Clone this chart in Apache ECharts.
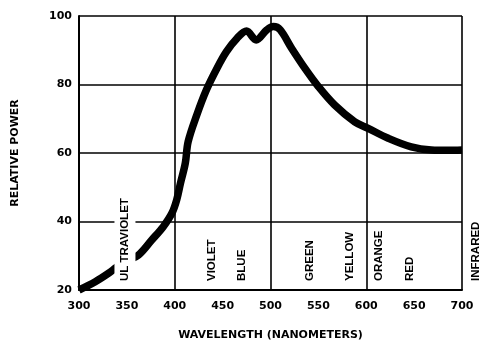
<!DOCTYPE html>
<html>
<head>
<meta charset="utf-8">
<script src="https://cdn.jsdelivr.net/npm/echarts@6/dist/echarts.min.js"></script>
<style>
html,body{margin:0;padding:0;background:#fff;}
#c{width:482px;height:349px;}
</style>
</head>
<body>
<div id="c"></div>
<script>
var wavelength = [300, 317, 331, 339, 350, 362, 376, 388, 397, 402, 406, 411, 414, 423, 433, 444, 454, 465, 475, 485, 496, 503, 510, 522, 536, 550, 567, 588, 602, 623, 647, 668, 685, 700];
var power = [20, 22.4, 24.9, 26.6, 28.5, 30.2, 34.6, 38.5, 42.4, 46.3, 51.2, 57, 63.3, 71.1, 78.4, 84.7, 89.6, 93.5, 95.6, 93, 95.9, 96.9, 96, 90.6, 84.7, 79.4, 74, 69.1, 67.2, 64.3, 61.8, 60.9, 60.8, 60.9];
var bandNames = ['UL TRAVIOLET', 'VIOLET', 'BLUE', 'GREEN', 'YELLOW', 'ORANGE', 'RED', 'INFRARED'];
var bandCenters = [348, 439, 470, 541, 583, 613, 646, 714];
var xTicks = [300, 350, 400, 450, 500, 550, 600, 650, 700];
var yTicks = [20, 40, 60, 80, 100];

var font = 'Liberation Sans, Arial, sans-serif';
var wide = 'DejaVu Sans, sans-serif';
var chart = echarts.init(document.getElementById('c'));
var curve = wavelength.map(function (w, i) { return [w, power[i]]; });
var bands = bandNames.map(function (n, i) { return [bandCenters[i], yTicks[0], n]; });

chart.setOption({
  backgroundColor: '#fff',
  animation: false,
  grid: { left: 79, right: 20, top: 16, bottom: 59, show: false },
  xAxis: [{
    type: 'value', min: xTicks[0], max: xTicks[xTicks.length - 1], interval: 50,
    name: 'WAVELENGTH (NANOMETERS)', nameLocation: 'middle', nameGap: 40,
    nameTextStyle: { fontFamily: wide, fontWeight: 'bold', fontSize: 11, color: '#000' },
    axisLine: { show: true, lineStyle: { color: '#000', width: 2 } },
    axisTick: { show: false },
    axisLabel: { fontFamily: wide, fontWeight: 'bold', fontSize: 11, color: '#000', margin: 11 },
    splitLine: { show: false }
  }, {
    type: 'value', min: xTicks[0], max: xTicks[xTicks.length - 1], interval: 100, position: 'bottom',
    axisLine: { show: false }, axisTick: { show: false }, axisLabel: { show: false },
    splitLine: { show: true, lineStyle: { color: '#000', width: 1.6 } }
  }],
  yAxis: {
    type: 'value', min: yTicks[0], max: yTicks[yTicks.length - 1], interval: 20,
    name: 'RELATIVE POWER', nameLocation: 'middle', nameGap: 58,
    nameTextStyle: { fontFamily: wide, fontWeight: 'bold', fontSize: 11, color: '#000' },
    axisLine: { show: true, lineStyle: { color: '#000', width: 2 } },
    axisTick: { show: false },
    axisLabel: { fontFamily: wide, fontWeight: 'bold', fontSize: 11, color: '#000', margin: 7 },
    splitLine: { show: true, lineStyle: { color: '#000', width: 1.6 } }
  },
  series: [{
    type: 'line', data: curve, smooth: 0.35, symbol: 'none', z: 3,
    lineStyle: { color: '#000', width: 7.5 }
  }, {
    type: 'scatter', data: bands, symbolSize: 0, clip: false, z: 10, zlevel: 1, silent: true,
    itemStyle: { opacity: 1 },
    label: {
      show: true, position: 'top', distance: 8, rotate: 90,
      align: 'left', verticalAlign: 'middle',
      formatter: function (p) { return p.data[2]; },
      fontFamily: font, fontSize: 11.5, fontWeight: 'bold', color: '#000',
      backgroundColor: '#fff', padding: [4.5, 1, 4.5, 1]
    }
  }]
});
</script>
</body>
</html>
